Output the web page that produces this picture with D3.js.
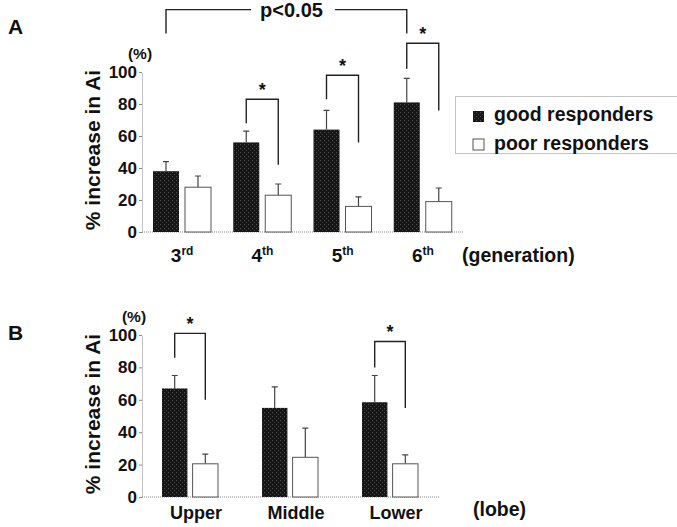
<!DOCTYPE html>
<html>
<head>
<meta charset="utf-8">
<script src="https://cdn.jsdelivr.net/npm/d3@7"></script>
<style>
body { margin: 0; background: #fff; }
text { font-family: "Liberation Sans", Arial, sans-serif; font-weight: bold; fill: #111; }
</style>
</head>
<body>
<script>
// series / shared
const series = ["good", "poor"];
const seriesNames = ["good responders", "poor responders"];
const yTicks = [0, 20, 40, 60, 80, 100];

// panel A : generation
const genCats = ["3", "4", "5", "6"];
const genSup = ["rd", "th", "th", "th"];
const genGood = [38, 56, 64, 81];
const genGoodSD = [6, 7, 12, 15];
const genPoor = [28, 23, 16, 19];
const genPoorSD = [7, 7, 6, 8.5];
const genBrackets = [ // heights in % units: top, good leg end, poor leg end
	{cat: "4", top: 83, left: 68, right: 42},
	{cat: "5", top: 98, left: 83, right: 56},
	{cat: "6", top: 118, left: 102, right: 76}
];

// panel B : lobe
const lobeCats = ["Upper", "Middle", "Lower"];
const lobeGood = [67, 55, 58.5];
const lobeGoodSD = [8, 13, 16.5];
const lobePoor = [20.5, 24.5, 20.5];
const lobePoorSD = [6, 18, 5.5];
const lobeBrackets = [
	{cat: "Upper", top: 101, left: 86, right: 60},
	{cat: "Lower", top: 96, left: 80, right: 55}
];

let svg = d3.select("body").append("svg")
	.attr("width", 677)
	.attr("height", 527);

//stipple texture for the dark bars
let defs = svg.append("defs");
let pat = defs.append("pattern")
	.attr("id", "stipple")
	.attr("width", 4).attr("height", 4)
	.attr("patternUnits", "userSpaceOnUse");
pat.append("rect").attr("width", 4).attr("height", 4).attr("fill", "#161616");
pat.append("rect").attr("x", 0).attr("y", 0).attr("width", 1).attr("height", 1).attr("fill", "#555");
pat.append("rect").attr("x", 2).attr("y", 2).attr("width", 1).attr("height", 1).attr("fill", "#444");

function panel(o) {
	let x = d3.scaleBand().domain(o.cats).range(o.xRange);
	let inner = d3.scaleBand().domain(series).range(o.innerRange).paddingInner(o.innerPad);
	let y = d3.scaleLinear().domain([0, 100]).range(o.yRange);
	let bw = inner.bandwidth();
	let cx = (c, s) => x(c) + inner(s) + bw / 2;

	let g = svg.append("g");

	//y axis
	let yG = g.append("g")
		.attr("transform", `translate(142,0)`)
		.call(d3.axisLeft(y).tickValues(yTicks).tickSize(3).tickSizeOuter(0).tickPadding(2));
	yG.select(".domain").attr("stroke", "#888").attr("stroke-dasharray", "1,1");
	yG.selectAll(".tick line").attr("stroke", "#888");
	yG.selectAll(".tick text")
		.attr("font-size", 17)
		.attr("font-family", "Liberation Sans, Arial, sans-serif")
		.attr("font-weight", "bold")
		.attr("fill", "#111");

	//baseline
	g.append("line")
		.attr("x1", 142).attr("x2", o.xRange[1])
		.attr("y1", y(0)).attr("y2", y(0))
		.attr("stroke", "#888").attr("stroke-dasharray", "1,1");

	//bars
	let rows = [];
	o.cats.forEach((c, i) => {
		rows.push({c: c, s: "good", v: o.good[i], sd: o.goodSD[i]});
		rows.push({c: c, s: "poor", v: o.poor[i], sd: o.poorSD[i]});
	});

	//error bars
	g.selectAll(".err").data(rows).enter().append("path")
		.attr("fill", "none")
		.attr("stroke", "#444")
		.attr("stroke-width", 1.2)
		.attr("d", d => `M${cx(d.c, d.s)},${y(d.v)}V${y(d.v + d.sd)}M${cx(d.c, d.s) - 3},${y(d.v + d.sd)}h6`);

	g.selectAll(".bar").data(rows).enter().append("rect")
		.attr("x", d => x(d.c) + inner(d.s))
		.attr("y", d => y(d.v))
		.attr("width", bw)
		.attr("height", d => y(0) - y(d.v))
		.attr("fill", d => d.s == "good" ? "url(#stipple)" : "#fff")
		.attr("stroke", d => d.s == "good" ? "none" : "#555")
		.attr("stroke-width", 1);

	//significance brackets
	o.brackets.forEach(b => {
		let xl = cx(b.cat, "good"), xr = cx(b.cat, "poor");
		g.append("path")
			.attr("fill", "none").attr("stroke", "#222").attr("stroke-width", 1.4)
			.attr("d", `M${xl},${y(b.left)}V${y(b.top)}H${xr}V${y(b.right)}`);
		g.append("text")
			.attr("x", (xl + xr) / 2).attr("y", y(b.top) - 3)
			.attr("text-anchor", "middle").attr("font-size", 18)
			.text("*");
	});

	//category labels
	o.cats.forEach((c, i) => {
		let t = g.append("text")
			.attr("x", x(c) + x.bandwidth() / 2 + o.labelShift)
			.attr("y", o.labelY)
			.attr("text-anchor", "middle")
			.attr("font-size", o.sup ? 19 : 18);
		t.append("tspan").text(c);
		if (o.sup) t.append("tspan").attr("font-size", 12).attr("dy", -7).text(o.sup[i]);
	});

	g.append("text").attr("x", o.unitX).attr("y", o.unitY)
		.attr("font-size", 19.5).text(o.unit);

	//y label and (%)
	let ymid = (o.yRange[0] + o.yRange[1]) / 2;
	g.append("text")
		.attr("transform", `translate(100,${ymid - 2}) rotate(-90)`)
		.attr("text-anchor", "middle")
		.attr("font-size", 21)
		.text("% increase in Ai");
	g.append("text").attr("x", o.pctX).attr("y", o.yRange[1] - 13)
		.attr("text-anchor", "middle").attr("font-size", 15.5).text("(%)");

	g.append("text").attr("x", 8).attr("y", o.letterY)
		.attr("font-size", 21).text(o.letter);

	return {x: x, y: y, cx: cx};
}

let A = panel({
	cats: genCats, sup: genSup, good: genGood, goodSD: genGoodSD, poor: genPoor, poorSD: genPoorSD,
	brackets: genBrackets, xRange: [142, 463], innerRange: [11, 69], innerPad: 0.1875,
	yRange: [232, 72], labelY: 262, labelShift: 0, unit: "(generation)", unitX: 462, unitY: 262,
	pctX: 140, letter: "A", letterY: 34
});

panel({
	cats: lobeCats, sup: null, good: lobeGood, goodSD: lobeGoodSD, poor: lobePoor, poorSD: lobePoorSD,
	brackets: lobeBrackets, xRange: [140, 440], innerRange: [22, 78], innerPad: 0.17,
	yRange: [497, 335], labelY: 519, labelShift: 6, unit: "(lobe)", unitX: 473, unitY: 516,
	pctX: 134, letter: "B", letterY: 340
});

//p<0.05 bracket between 3rd and 6th good responders
let pl = A.cx("3", "good"), pr = A.cx("6", "good");
let pTop = A.y(139), pLeg = A.y(124);
let pText = svg.append("text")
	.attr("x", 291.5).attr("y", 17)
	.attr("text-anchor", "middle").attr("font-size", 20)
	.text("p<0.05");
let bb = pText.node().getBBox();
svg.append("path")
	.attr("fill", "none").attr("stroke", "#222").attr("stroke-width", 1.4)
	.attr("d", `M${pl},${pLeg}V${pTop}H${bb.x - 9}M${bb.x + bb.width + 12},${pTop}H${pr}V${pLeg}`);

//legend
let leg = svg.append("g");
leg.append("rect")
	.attr("x", 455.5).attr("y", 96.5).attr("width", 240).attr("height", 57)
	.attr("fill", "none").attr("stroke", "#888").attr("stroke-dasharray", "1,1");
series.forEach((s, i) => {
	leg.append("rect")
		.attr("x", 473).attr("y", 111 + i * 28).attr("width", 11).attr("height", 11)
		.attr("fill", s == "good" ? "url(#stipple)" : "#fff")
		.attr("stroke", "#555").attr("stroke-width", s == "good" ? 0 : 1);
	leg.append("text")
		.attr("x", 494).attr("y", 121 + i * 29)
		.attr("font-size", 19.5)
		.text(seriesNames[i]);
});
</script>
</body>
</html>
